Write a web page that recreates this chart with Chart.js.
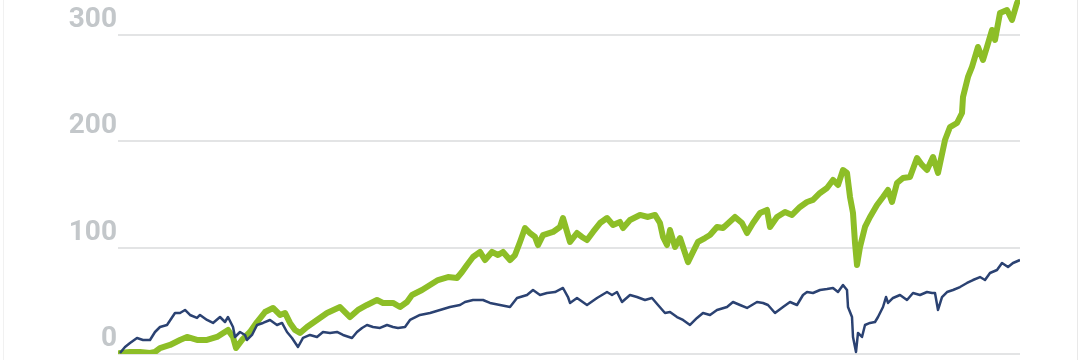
<!DOCTYPE html>
<html>
<head>
<meta charset="utf-8">
<script src="https://cdn.jsdelivr.net/npm/chart.js@4"></script>
<style>
  html, body { margin: 0; padding: 0; background: #fff; }
  #wrap { position: relative; width: 1080px; height: 360px; }
  #frame { position: absolute; left: 3px; top: 0; width: 1073px; height: 360px;
           border-left: 1px solid #f1f1f1; border-right: 1px solid #e9e9e9; pointer-events: none; }
</style>
</head>
<body>
<div id="wrap">
  <canvas id="chart" width="1080" height="360"></canvas>
  <div id="frame"></div>
</div>
<script>
// week index and cumulative value for each line
var navyWeeks = [2,7,12,19,25,32,37,42,49,57,62,67,72,79,82,89,95,102,107,110,115,117,122,127,129,134,139,145,152,159,164,169,174,180,185,192,199,205,212,219,225,234,239,244,249,255,262,269,275,280,287,292,302,312,322,332,342,347,355,365,372,382,392,399,409,415,422,429,437,445,450,452,459,469,479,489,494,499,504,512,519,527,534,540,547,552,559,565,572,579,585,592,599,609,615,622,629,639,645,650,657,665,672,679,685,689,695,702,709,715,720,725,729,730,734,735,738,740,744,747,752,757,760,765,768,770,775,782,789,795,802,809,814,817,820,824,829,835,842,849,855,862,867,872,879,884,890,895,902];
var navyValues = [0.9,6.6,10.3,15.1,13.2,13.2,20.7,25.4,27.3,38.6,38.6,41.4,36.7,33.9,36.7,32.0,29.2,34.8,30.1,34.8,25.4,16.0,20.7,17.9,13.2,17.9,27.3,29.2,32.0,27.3,29.2,20.7,15.1,6.6,15.1,17.9,16.0,20.7,19.8,20.7,17.9,15.1,20.7,24.5,27.3,25.4,24.5,27.3,25.4,24.5,25.4,32.0,36.7,38.6,41.4,44.2,46.1,48.9,50.8,50.8,48.0,46.1,44.2,52.7,55.5,60.2,55.5,57.4,58.3,62.1,53.6,48.0,52.7,46.1,52.7,58.3,55.5,58.3,48.9,55.5,53.6,50.8,52.7,46.1,38.6,39.5,34.8,32.0,27.3,33.9,38.6,36.7,41.4,44.2,48.9,46.1,43.3,48.9,48.0,46.1,38.6,44.2,48.9,46.1,55.5,58.3,57.4,60.2,61.1,62.1,58.3,64.9,60.2,44.2,34.8,16.0,1.9,19.8,16.0,27.3,29.2,30.1,34.8,44.2,53.6,48.0,52.7,55.5,50.8,57.4,55.5,58.3,57.4,57.4,41.4,53.6,58.3,60.2,63.0,66.8,69.6,72.4,69.6,76.2,79.0,85.6,81.8,85.6,88.4];

var greenWeeks = [2,12,22,32,37,42,52,62,69,79,89,99,110,115,118,124,132,139,147,155,162,167,172,177,182,189,199,209,222,227,232,240,249,259,265,275,282,289,294,304,312,320,330,339,344,349,355,362,367,374,380,385,392,397,402,407,412,417,420,425,435,442,445,450,452,459,464,469,475,482,489,495,502,505,512,522,530,537,542,545,549,552,557,562,567,570,575,580,587,592,599,605,617,624,629,635,642,649,652,659,667,674,682,689,695,702,709,715,720,725,729,732,735,737,739,742,747,752,759,765,770,774,779,785,792,799,804,809,815,820,827,832,839,844,845,850,854,860,865,869,874,877,882,889,894,899,902];
var greenValues = [0.9,1.9,1.9,0.9,1.9,5.6,8.5,13.2,16.0,13.2,13.2,16.0,22.6,16.0,5.6,13.2,20.7,30.1,39.5,43.3,36.7,38.6,29.2,22.6,19.8,25.4,32.0,38.6,44.2,39.5,34.8,41.4,46.1,50.8,48.0,48.0,44.2,48.9,55.5,60.2,64.9,69.6,72.4,71.5,77.1,83.7,91.2,96.0,88.4,96.0,93.1,96.0,88.4,93.1,105.4,118.5,113.8,110.1,102.5,111.9,114.8,119.5,127.9,111.9,105.4,113.8,110.1,107.2,114.8,123.2,127.9,121.3,124.2,118.5,126.1,130.8,128.9,130.8,123.2,110.1,102.5,116.6,100.7,109.1,95.0,86.5,96.0,105.4,109.1,111.9,119.5,118.5,128.9,123.2,113.8,123.2,132.6,135.5,119.5,128.9,133.6,130.8,138.3,143.0,144.9,151.5,156.2,163.7,159.0,173.1,170.3,147.7,132.6,104.4,83.7,100.7,119.5,128.9,140.2,147.7,154.3,143.0,160.9,165.6,166.5,184.4,177.8,173.1,185.3,170.3,201.3,213.5,217.3,226.7,241.8,260.6,270.0,288.8,276.6,288.8,304.8,295.4,320.8,323.6,314.2,330.2,335.8];

var yTicks = [0, 100, 200, 300];

function toPoints(xs, ys) {
  return xs.map(function (x, i) { return { x: x, y: ys[i] }; });
}

new Chart(document.getElementById("chart"), {
  type: 'line',
  data: {
    datasets: [
      {
        label: "Navy",
        data: toPoints(navyWeeks, navyValues),
        borderColor: "#2b4272",
        borderWidth: 2.5,
        pointRadius: 0,
        tension: 0,
        borderJoinStyle: 'round'
      }, {
        label: "Green",
        data: toPoints(greenWeeks, greenValues),
        borderColor: "#8dbe27",
        borderWidth: 6,
        pointRadius: 0,
        tension: 0,
        borderJoinStyle: 'round',
        borderCapStyle: 'round'
      }
    ]
  },
  options: {
    responsive: false,
    animation: false,
    layout: { padding: { left: 0, right: 60, top: 0, bottom: 6 } },
    plugins: { legend: { display: false }, tooltip: { enabled: false } },
    scales: {
      x: { type: 'linear', min: 0, max: 902, display: false },
      y: {
        min: 0,
        max: 333,
        afterFit: function (scale) {
          scale.width = 118;
          scale.paddingTop = 0;
          scale.paddingBottom = 0;
        },
        afterBuildTicks: function (scale) {
          scale.ticks = yTicks.map(function (v) { return { value: v }; });
        },
        border: { display: false },
        grid: { color: '#e3e4e5', lineWidth: 2, drawTicks: false },
        ticks: {
          padding: 1,
          labelOffset: -15,
          color: '#c3c7ca',
          font: { family: 'Roboto', size: 28, weight: 'bold' }
        }
      }
    }
  }
});
</script>
</body>
</html>
